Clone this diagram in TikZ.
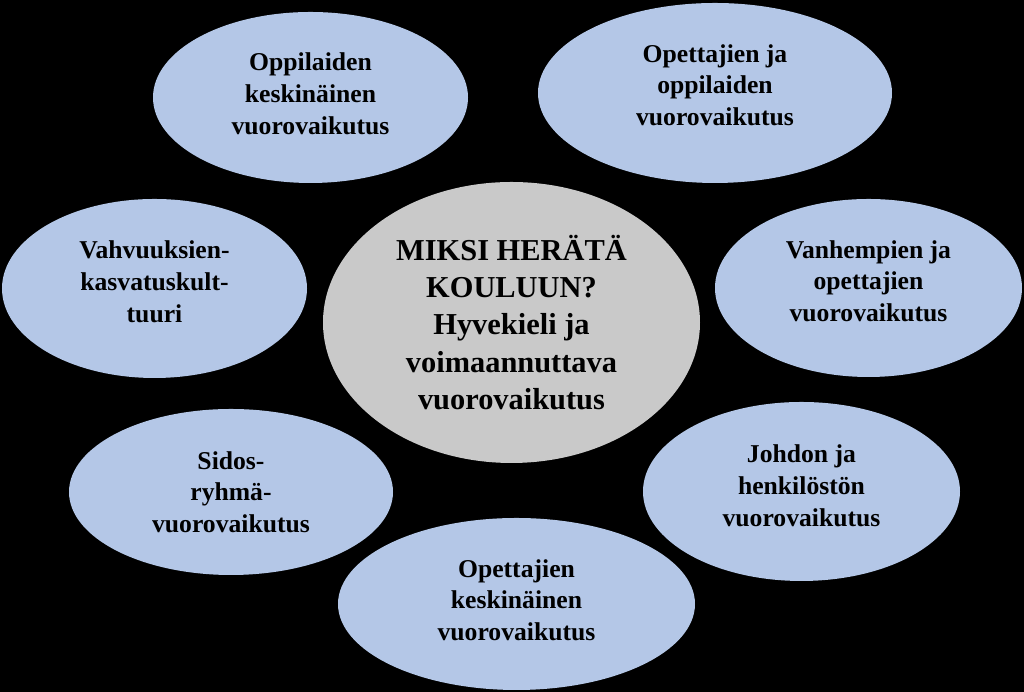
\documentclass[tikz,border=0pt]{standalone}
\usepackage{fontspec}
\setmainfont{Liberation Serif}
\definecolor{BubbleColor}{RGB}{180,199,231}
\definecolor{CoreColor}{RGB}{201,201,201}
\usepackage{tikz}
\usetikzlibrary{shapes.geometric}
\usetikzlibrary{positioning}
\tikzstyle{bubble} = [ellipse, fill=BubbleColor, inner sep=0pt, align=center, font=\fontsize{14.6}{18}\selectfont\bfseries]
\tikzstyle{core} = [ellipse, fill=CoreColor, inner sep=0pt, align=center, font=\fontsize{17.3}{21.3}\selectfont\bfseries]

\begin{document}
\begin{tikzpicture}

                \fill[black] (0,0) rectangle (20.48,13.84);
                \useasboundingbox (0,0) rectangle (20.48,13.84);

                % keskusta
                \node[core, minimum width=7.54cm, minimum height=5.62cm] (core) at (10.23,7.39)
                    {MIKSI HERÄTÄ\\KOULUUN?\\Hyvekieli ja\\voimaannuttava\\vuorovaikutus};

                % ylärivi
                \node[bubble, minimum width=6.30cm, minimum height=3.42cm, text depth=0.16cm] (pupils) at (6.21,11.89)
                    {Oppilaiden\\keskinäinen\\vuorovaikutus};
                \node[bubble, minimum width=7.08cm, minimum height=3.60cm, text depth=0.32cm] (teachpupil) at (14.30,11.98)
                    {Opettajien ja\\oppilaiden\\vuorovaikutus};

                % keskirivi
                \node[bubble, minimum width=6.10cm, minimum height=3.58cm, text depth=0.28cm] (strength) at (3.09,8.07)
                    {Vahvuuksien-\\kasvatuskult-\\tuuri};
                \node[bubble, minimum width=6.14cm, minimum height=3.56cm, text depth=0.28cm] (parents) at (17.37,8.08)
                    {Vanhempien ja\\opettajien\\vuorovaikutus};

                % alarivi
                \node[bubble, minimum width=6.48cm, minimum height=3.32cm] (stake) at (4.62,4.00)
                    {Sidos-\\ryhmä-\\vuorovaikutus};
                \node[bubble, minimum width=6.34cm, minimum height=3.58cm, text depth=0.24cm] (lead) at (16.03,4.01)
                    {Johdon ja\\henkilöstön\\vuorovaikutus};
                \node[bubble, minimum width=7.14cm, minimum height=3.44cm, text depth=0.16cm] (teachers) at (10.33,1.76)
                    {Opettajien\\keskinäinen\\vuorovaikutus};
            \end{tikzpicture}
\end{document}
